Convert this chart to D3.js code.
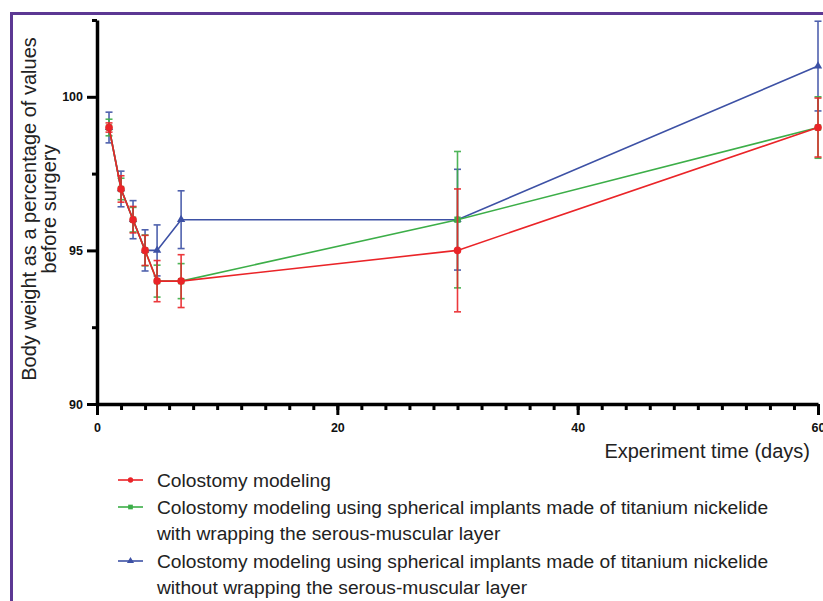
<!DOCTYPE html>
<html>
<head>
<meta charset="utf-8">
<script src="https://cdn.jsdelivr.net/npm/d3@7"></script>
<style>
  body { margin: 0; background: #fff; }
  svg { display: block; font-family: "Liberation Sans", Arial, sans-serif; }
</style>
</head>
<body>
<div id="chart"></div>
<script>
// data
var days = [1, 2, 3, 4, 5, 7, 30, 60];

var redMean  = [99, 97, 96, 95, 94, 94, 95, 99];
var redErr   = [0.15, 0.43, 0.43, 0.49, 0.67, 0.86, 2.0, 0.96];
var greenMean = [99, 97, 96, 95, 94, 94, 96, 99];
var greenErr  = [0.27, 0.35, 0.4, 0.5, 0.52, 0.57, 2.22, 1.0];
var blueMean = [99, 97, 96, 95, 95, 96, 96, 101];
var blueErr  = [0.5, 0.58, 0.62, 0.67, 0.83, 0.94, 1.64, 1.46];

var xMajorTicks = [0, 20, 40, 60];
var yMajorTicks = [90, 95, 100];
var yMinorTicks = [92.5, 97.5, 102.5];

var legendLabels = [
  ["Colostomy modeling"],
  ["Colostomy modeling using spherical implants made of titanium nickelide",
   "with wrapping the serous-muscular layer"],
  ["Colostomy modeling using spherical implants made of titanium nickelide",
   "without wrapping the serous-muscular layer"]
];

var width = 823, height = 601;
var svg = d3.select("#chart").append("svg")
  .attr("width", width).attr("height", height);

// purple frame
svg.append("rect")
  .attr("x", 11.5).attr("y", 13.5)
  .attr("width", 830).attr("height", 620)
  .attr("fill", "none").attr("stroke", "#5c3893").attr("stroke-width", 3);

var x = d3.scaleLinear().domain([0, 60]).range([97, 818]);
var y = d3.scaleLinear().domain([90, 102.5]).range([404, 20]);

// x axis: minor ticks every 2 days, major every 20
var xMinor = d3.range(0, 61, 2);
svg.append("g").attr("transform", "translate(0,404)")
  .call(d3.axisBottom(x).tickValues(xMinor).tickSize(6).tickSizeOuter(0).tickFormat(""))
  .call(function (g) {
    g.select(".domain").attr("stroke-width", 3.5);
    g.selectAll(".tick line").attr("stroke-width", 3);
  });
svg.append("g").attr("transform", "translate(0,404)")
  .call(d3.axisBottom(x).tickValues(xMajorTicks).tickSize(11).tickSizeOuter(0).tickPadding(8))
  .call(function (g) {
    g.select(".domain").remove();
    g.selectAll(".tick line").attr("stroke-width", 3);
    g.selectAll(".tick text").attr("font-size", 12.5).attr("font-weight", "bold")
      .attr("fill", "#111").attr("font-family", "Liberation Sans, Arial, sans-serif");
  });

// y axis
svg.append("g").attr("transform", "translate(97,0)")
  .call(d3.axisLeft(y).tickValues(yMinorTicks).tickSize(5).tickSizeOuter(0).tickFormat(""))
  .call(function (g) {
    g.select(".domain").attr("stroke-width", 3.5);
    g.selectAll(".tick line").attr("stroke-width", 3);
  });
svg.append("g").attr("transform", "translate(97,0)")
  .call(d3.axisLeft(y).tickValues(yMajorTicks).tickSize(10).tickSizeOuter(0).tickPadding(4))
  .call(function (g) {
    g.select(".domain").remove();
    g.selectAll(".tick line").attr("stroke-width", 3);
    g.selectAll(".tick text").attr("font-size", 12.5).attr("font-weight", "bold")
      .attr("fill", "#111").attr("font-family", "Liberation Sans, Arial, sans-serif");
  });

// axis titles
svg.append("text")
  .attr("x", 810).attr("y", 458)
  .attr("text-anchor", "end")
  .attr("font-size", 20).attr("fill", "#222")
  .text("Experiment time (days)");

var yTitle = svg.append("text")
  .attr("transform", "translate(0,209) rotate(-90)")
  .attr("text-anchor", "middle")
  .attr("font-size", 20).attr("fill", "#222");
yTitle.append("tspan").attr("x", 0).attr("y", 36).text("Body weight as a percentage of values");
yTitle.append("tspan").attr("x", 0).attr("y", 56).text("before surgery");

// series
var series = [
  { name: "blue",  color: "#3d51a5", mean: blueMean,  err: blueErr,  symbol: d3.symbolTriangle, size: 30 },
  { name: "green", color: "#3cae48", mean: greenMean, err: greenErr, symbol: d3.symbolSquare,   size: 40 },
  { name: "red",   color: "#ea2428", mean: redMean,   err: redErr,   symbol: d3.symbolCircle,   size: 45 }
];

var line = d3.line()
  .x(function (d) { return x(d.day); })
  .y(function (d) { return y(d.mean); });

series.forEach(function (s) {
  var pts = days.map(function (d, i) { return { day: d, mean: s.mean[i], err: s.err[i] }; });
  var g = svg.append("g").attr("class", "series-" + s.name);

  // error bars
  var eb = g.selectAll(".eb").data(pts).enter().append("g").attr("class", "eb")
    .attr("stroke", s.color).attr("stroke-width", 1.6).attr("opacity", 0.9);
  eb.append("line")
    .attr("x1", function (d) { return x(d.day); })
    .attr("x2", function (d) { return x(d.day); })
    .attr("y1", function (d) { return y(d.mean + d.err); })
    .attr("y2", function (d) { return y(d.mean - d.err); });
  eb.selectAll(".cap").data(function (d) { return [d.mean + d.err, d.mean - d.err].map(function (v) { return { day: d.day, v: v }; }); })
    .enter().append("line").attr("class", "cap")
    .attr("x1", function (d) { return x(d.day) - 3.5; })
    .attr("x2", function (d) { return x(d.day) + 3.5; })
    .attr("y1", function (d) { return y(d.v); })
    .attr("y2", function (d) { return y(d.v); });

  g.append("path").datum(pts)
    .attr("fill", "none").attr("stroke", s.color).attr("stroke-width", 1.6)
    .attr("d", line);

  g.selectAll(".pt").data(pts).enter().append("path").attr("class", "pt")
    .attr("transform", function (d) { return "translate(" + x(d.day) + "," + y(d.mean) + ")"; })
    .attr("d", d3.symbol().type(s.symbol).size(s.size))
    .attr("fill", s.color);
});

// legend
var legendColors = ["#ea2428", "#3cae48", "#3d51a5"];
var legendSymbols = [d3.symbolCircle, d3.symbolSquare, d3.symbolTriangle];
var legendY = [480, 507, 561];
legendLabels.forEach(function (lines, i) {
  var g = svg.append("g").attr("transform", "translate(0," + legendY[i] + ")");
  g.append("line").attr("x1", 118).attr("x2", 143).attr("y1", 0).attr("y2", 0)
    .attr("stroke", legendColors[i]).attr("stroke-width", 1.6);
  g.append("path").attr("transform", "translate(130.5,0)")
    .attr("d", d3.symbol().type(legendSymbols[i]).size(22))
    .attr("fill", legendColors[i]);
  var t = g.append("text").attr("font-size", 19.2).attr("fill", "#222");
  lines.forEach(function (l, j) {
    t.append("tspan").attr("x", 157).attr("y", 7 + j * 25.5).text(l);
  });
});
</script>
</body>
</html>
